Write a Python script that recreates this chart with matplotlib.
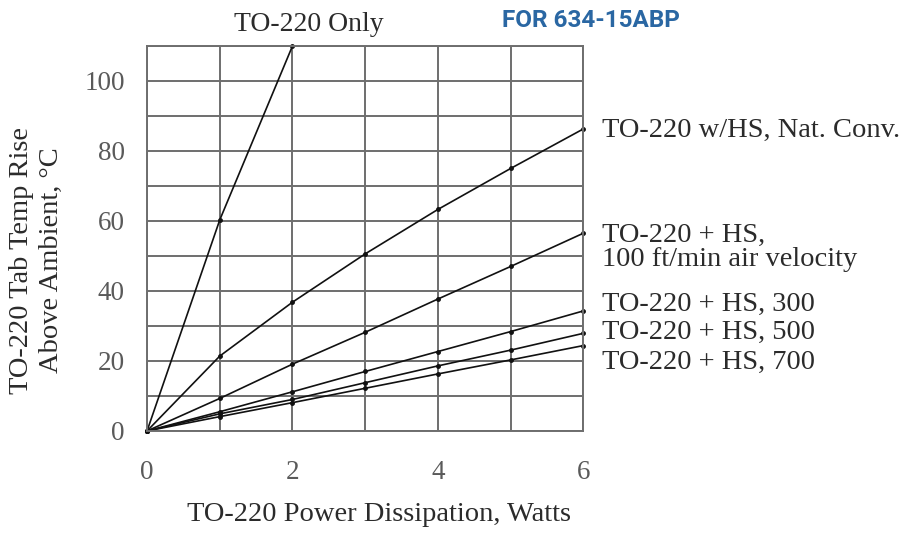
import numpy as np
import matplotlib.pyplot as plt

# power dissipation, watts
watts = [0, 1, 2, 3, 4, 5, 6]

# tab temperature rise above ambient, deg C
to220_only = [0, 60.3, 110]
nat_conv = [0, 21.4, 36.8, 50.6, 63.3, 75.0, 86.3]
air_100 = [0, 9.3, 19.1, 28.2, 37.7, 47.0, 56.5]
air_300 = [0, 5.5, 11.2, 17.0, 22.7, 28.4, 34.3]
air_500 = [0, 4.9, 9.0, 13.8, 18.6, 23.1, 27.9]
air_700 = [0, 4.1, 8.1, 12.2, 16.3, 20.3, 24.4]

curve_labels = [
    ("TO-220 w/HS, Nat. Conv.", 85.8),
    ("TO-220 + HS,", 55.8),
    ("100 ft/min air velocity", 48.9),
    ("TO-220 + HS, 300", 36.1),
    ("TO-220 + HS, 500", 28.1),
    ("TO-220 + HS, 700", 19.5),
]

# grid every 1 W / 10 deg, labels only on some
x_grid = np.arange(0, 7, 1)
y_grid = np.arange(0, 111, 10)
x_labels = ['0', '', '2', '', '4', '', '6']
y_labels = ['0', '', '20', '', '40', '', '60', '', '80', '', '100', '']

plt.rcParams['font.family'] = ['Liberation Serif', 'DejaVu Serif']

fig = plt.figure(figsize=(9.01, 5.33), dpi=100)
ax = fig.add_axes([0.1632, 0.1914, 0.4842, 0.7223])

grid_col = '#6e6e6e'
ax.set_xticks(x_grid)
ax.set_xticklabels(x_labels)
ax.set_yticks(y_grid)
ax.set_yticklabels(y_labels)
ax.grid(True, color=grid_col, lw=1.4)
ax.tick_params(length=0, labelsize=19.5, labelcolor='#5a5a5a')
ax.tick_params(axis='x', pad=21)
ax.tick_params(axis='y', pad=16)
for s in ax.spines.values():
    s.set_color(grid_col)
    s.set_linewidth(1.4)

ax.plot(watts[:3], to220_only, color='#111111', lw=1.2, marker='o', ms=2.5, clip_on=False)
for series in [nat_conv, air_100, air_300, air_500, air_700]:
    ax.plot(watts, series, color='#111111', lw=1.2, marker='o', ms=2.5, clip_on=False)

ax.set_xlim(0, 6)
ax.set_ylim(0, 110)

txt_col = '#2b2b2b'
for label, y in curve_labels:
    ax.text(6.26, y, label, fontsize=20.5, color=txt_col, va='center', ha='left', clip_on=False)

ax.text(2.23, 116, "TO-220 Only", fontsize=20, color=txt_col, ha='center', va='center', clip_on=False)

fig.text(0.656, 0.962, "FOR 634-15ABP", fontsize=17.5, fontweight='bold', color='#2a67a3',
         ha='center', va='center', family='Roboto')

ax.set_xlabel("TO-220 Power Dissipation, Watts", fontsize=20.5, color=txt_col)
ax.xaxis.set_label_coords(0.531, -0.185)
ax.set_ylabel("TO-220 Tab Temp Rise\nAbove Ambient, °C", fontsize=20.5, color=txt_col,
              linespacing=1.25)
ax.yaxis.set_label_coords(-0.19, 0.444)

fig.savefig("out.png", dpi=100)
